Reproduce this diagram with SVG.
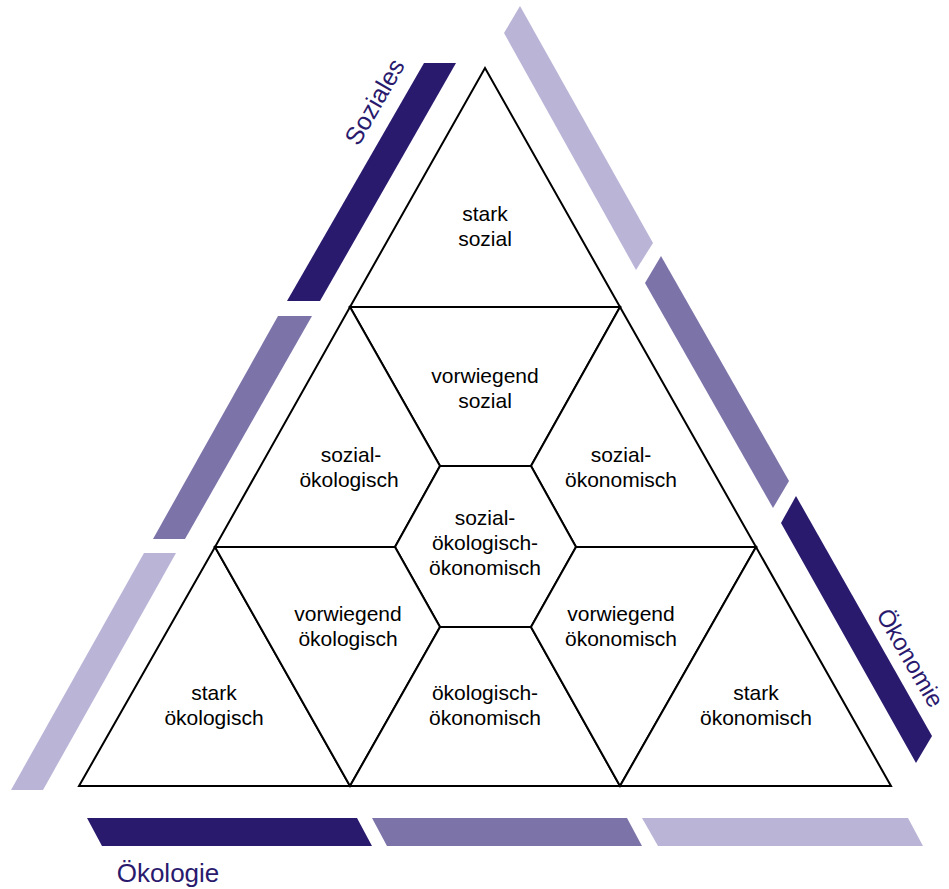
<svg xmlns="http://www.w3.org/2000/svg" width="949" height="889" viewBox="0 0 949 889">
<style>
.cell{fill:#fff;stroke:#000;stroke-width:2;stroke-linejoin:miter}
.lbl{font-family:"Liberation Sans",Arial,sans-serif;font-size:21px;fill:#000;text-anchor:middle}
.axis{font-family:"Liberation Sans",Arial,sans-serif;font-size:24px;fill:#2a1a6e;text-anchor:middle}
.dark{fill:#2a1a6e}
.mid{fill:#7c73a9}
.light{fill:#bab4d7}
</style>
<rect width="949" height="889" fill="#fff"/>
<g id="stripes">
<polygon class="dark" points="424,63 456,63 320,301 287,301"/>
<polygon class="mid" points="278,316 312,316 185,539 153,539"/>
<polygon class="light" points="144,553 176,553 43,790 11,790"/>
<polygon class="light" points="504,33 520,6 653,243 636,270"/>
<polygon class="mid" points="645,283 661,256 789,481 773,508"/>
<polygon class="dark" points="781,523 796,496 932,736 916,763"/>
<polygon class="dark" points="87,818 357,818 372,846 102,846"/>
<polygon class="mid" points="372,818 627,818 642,846 387,846"/>
<polygon class="light" points="642,818 908,818 923,846 658,846"/>
</g>
<g id="axis-labels">
<text class="axis" transform="translate(382,106) rotate(-60)" style="font-size:25px">Soziales</text>
<text class="axis" transform="translate(903,662) rotate(60)">Ökonomie</text>
<text class="axis" x="168" y="882" style="font-size:26px">Ökologie</text>
</g>
<g id="connectors"/>
<g id="stark-sozial">
<polygon class="cell" points="485,68 620,307 350,307"/>
<text class="lbl" x="485" y="221">stark</text>
<text class="lbl" x="485" y="246">sozial</text>
</g>
<g id="vorwiegend-sozial">
<polygon class="cell" points="350,307 620,307 531,466 440,466"/>
<text class="lbl" x="485" y="383">vorwiegend</text>
<text class="lbl" x="485" y="408">sozial</text>
</g>
<g id="sozial-oekologisch">
<polygon class="cell" points="350,307 440,466 395,547 215,547"/>
<text class="lbl" x="351" y="462">sozial-</text>
<text class="lbl" x="349" y="487">ökologisch</text>
</g>
<g id="sozial-oekonomisch">
<polygon class="cell" points="620,307 756,547 576,547 531,466"/>
<text class="lbl" x="621" y="462">sozial-</text>
<text class="lbl" x="621" y="487">ökonomisch</text>
</g>
<g id="sozial-oekologisch-oekonomisch">
<polygon class="cell" points="440,466 531,466 576,547 531,627 440,627 395,547"/>
<text class="lbl" x="485" y="525">sozial-</text>
<text class="lbl" x="485" y="550">ökologisch-</text>
<text class="lbl" x="485" y="575">ökonomisch</text>
</g>
<g id="stark-oekologisch">
<polygon class="cell" points="215,547 350,786 79,786"/>
<text class="lbl" x="214" y="700">stark</text>
<text class="lbl" x="214" y="725">ökologisch</text>
</g>
<g id="vorwiegend-oekologisch">
<polygon class="cell" points="215,547 395,547 440,627 350,786"/>
<text class="lbl" x="348" y="621">vorwiegend</text>
<text class="lbl" x="348" y="646">ökologisch</text>
</g>
<g id="oekologisch-oekonomisch">
<polygon class="cell" points="440,627 531,627 620,786 350,786"/>
<text class="lbl" x="485" y="700">ökologisch-</text>
<text class="lbl" x="485" y="725">ökonomisch</text>
</g>
<g id="vorwiegend-oekonomisch">
<polygon class="cell" points="576,547 756,547 620,786 531,627"/>
<text class="lbl" x="621" y="621">vorwiegend</text>
<text class="lbl" x="621" y="646">ökonomisch</text>
</g>
<g id="stark-oekonomisch">
<polygon class="cell" points="756,547 891,786 620,786"/>
<text class="lbl" x="756" y="700">stark</text>
<text class="lbl" x="756" y="725">ökonomisch</text>
</g>
</svg>
